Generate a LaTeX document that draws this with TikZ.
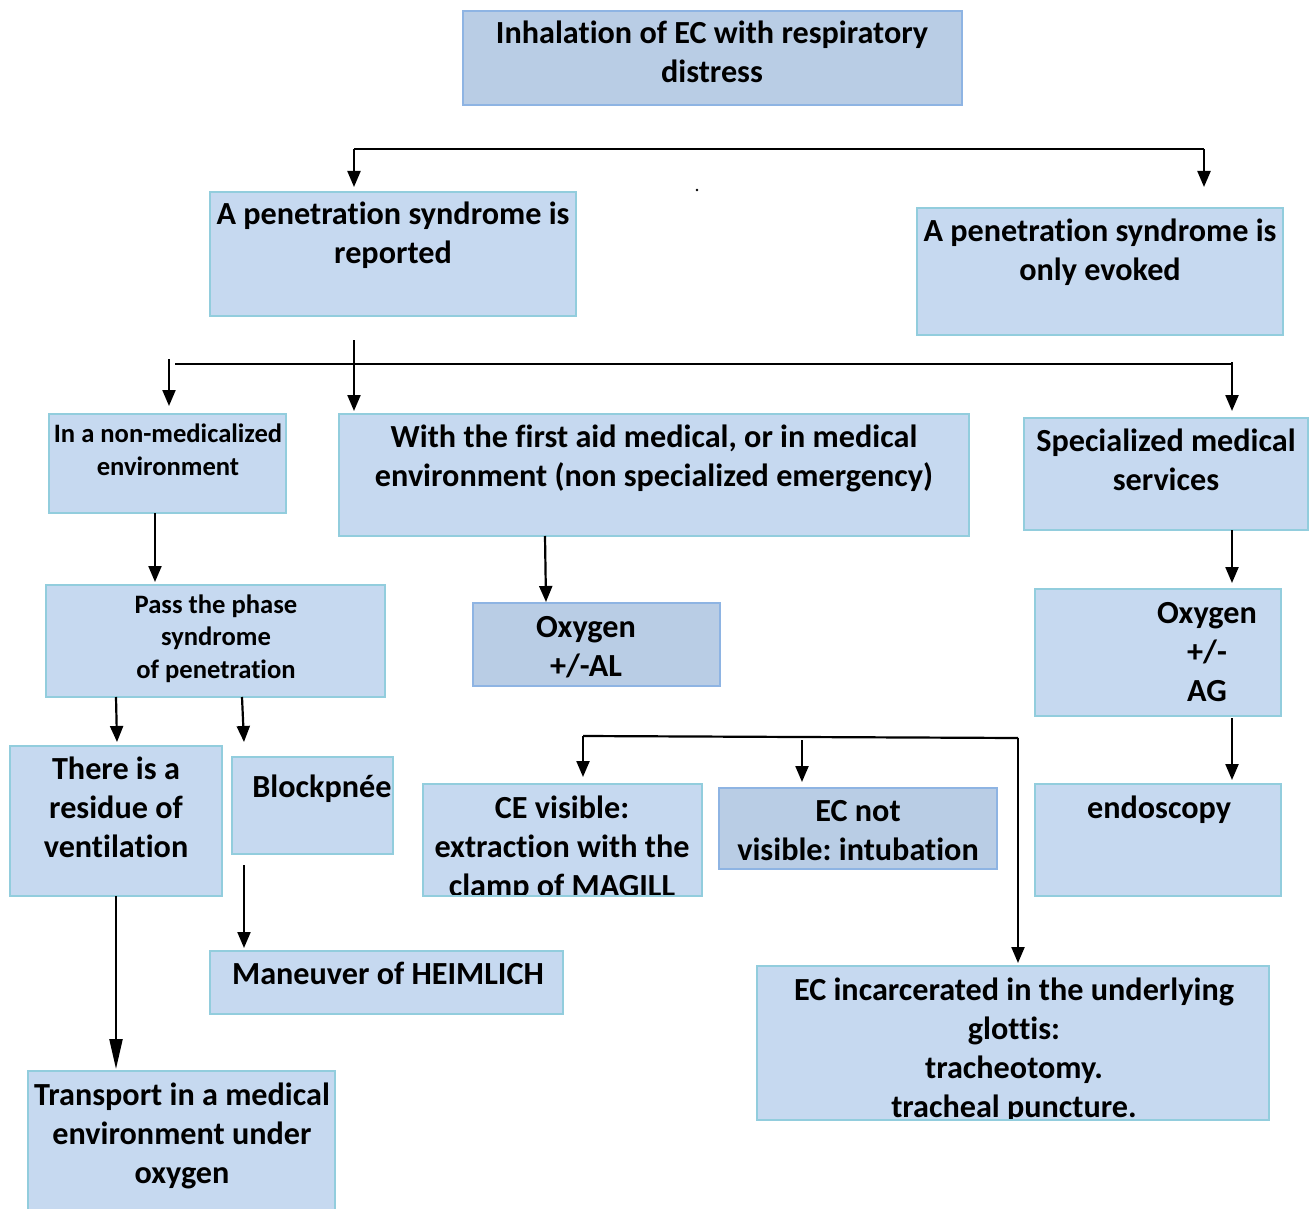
\documentclass[tikz,border=0pt]{standalone}
\usepackage{fontspec}
\setmainfont{Carlito}[Ligatures=NoCommon]
\usetikzlibrary{arrows.meta,fit}
\frenchspacing
\definecolor{lfill}{RGB}{198,217,240}
\definecolor{lbord}{RGB}{146,205,221}
\definecolor{dfill}{RGB}{185,205,229}
\definecolor{dbord}{RGB}{142,180,227}
\tikzset{
  box/.style={draw=lbord, fill=lfill, line width=2.5pt, inner sep=0pt, outer sep=0pt},
  dbox/.style={draw=dbord, fill=dfill, line width=2.5pt, inner sep=0pt, outer sep=0pt},
  txt/.style={anchor=north, inner sep=0pt, align=center, font=\bfseries\fontsize{32.2}{39}\selectfont},
  stxt/.style={txt, font=\bfseries\fontsize{26.6}{32.5}\selectfont},
  conn/.style={line width=2.2pt},
  arr/.style={line width=2.2pt, -{Triangle[length=16pt,width=13pt]}},
  longarr/.style={line width=2.2pt, -{Triangle[length=30pt,width=13pt]}}
}
\begin{document}
\begin{tikzpicture}[x=1pt,y=-1pt]
\useasboundingbox (0,0) rectangle (1309,1209);
% boxes
\node[dbox, fit={(463,11) (962,105)}] (top) {};
\node[box, fit={(210,192) (576,316)}] (pr) {};
\node[box, fit={(917,208) (1283,335)}] (ev) {};
\node[box, fit={(49,414) (286,513)}] (nm) {};
\node[box, fit={(339,414) (969,536)}] (fa) {};
\node[box, fit={(1024,418) (1308,530)}] (sp) {};
\node[box, fit={(46,585) (385,697)}] (pp) {};
\node[dbox, fit={(473,603) (720,686)}] (oa) {};
\node[box, fit={(1035,589) (1281,716)}] (og) {};
\node[box, fit={(10,746) (222,896)}] (rv) {};
\node[box, fit={(232,757) (393,854)}] (bp) {};
\node[box, fit={(423,784) (702,896)}] (ce) {};
\node[dbox, fit={(719,788) (997,869)}] (ecn) {};
\node[box, fit={(1035,784) (1281,896)}] (en) {};
\node[box, fit={(210,951) (563,1014)}] (mh) {};
\node[box, fit={(757,966) (1269,1120)}] (inc) {};
\node[box, fit={(28,1071) (335,1220)}] (tr) {};
% texts
\node[txt] (top-t) at (712,15.7) {\strut Inhalation of EC with respiratory\\distress};
\node[txt] (pr-t) at (393,196.7) {\strut A penetration syndrome is\\reported};
\node[txt] (ev-t) at (1100,213.7) {\strut A penetration syndrome is\\only evoked};
\node[stxt] (nm-t) at (168,419.6) {\strut In a non-medicalized\\environment};
\node[txt] (fa-t) at (654,419.7) {\strut With the first aid medical, or in medical\\environment (non specialized emergency)};
\node[txt] (sp-t) at (1166,423.7) {\strut Specialized medical\\services};
\node[stxt] (pp-t) at (216,590.2) {\strut Pass the phase\\syndrome\\of penetration};
\node[txt] (oa-t) at (586,609.7) {\strut Oxygen\\+/-AL};
\node[txt] (og-t) at (1207,595.7) {\strut Oxygen\\+/-\\AG};
\node[txt] (rv-t) at (116,751.7) {\strut There is a\\residue of\\ventilation};
\node[txt] (bp-t) at (322,769.7) {\strut Blockpnée};
\begin{scope}
\clip (ce.north west) rectangle ([xshift=-1.25pt,yshift=1.25pt]ce.south east);
\node[txt] (ce-t) at (562,790.7) {\strut CE visible:\\extraction with the\\clamp of MAGILL};
\end{scope}
\node[txt] (ecn-t) at (858,793.7) {\strut EC not\\visible: intubation};
\node[txt] (en-t) at (1159,790.7) {\strut endoscopy};
\node[txt] (mh-t) at (388,956.7) {\strut Maneuver of HEIMLICH};
\begin{scope}
\clip (inc.north west) rectangle ([yshift=1.25pt]inc.south east);
\node[txt] (inc-t) at (1014,972.7) {\strut EC incarcerated in the underlying\\glottis:\\tracheotomy.\\tracheal puncture.};
\end{scope}
\node[txt] (tr-t) at (182,1077.7) {\strut Transport in a medical\\environment under\\oxygen};
% small dot
\fill (697,190) circle (1.3pt);
% connectors
\coordinate (h1l) at (354,149);
\coordinate (h1r) at (1204,149);
\draw[conn] (h1l) -- (h1r);
\draw[arr] (h1l) -- ([yshift=5pt]pr.north -| h1l);
\draw[arr] (h1r) -- ([yshift=21pt]ev.north -| h1r);
\coordinate (h2l) at (175,364);
\coordinate (h2r) at (1232,364);
\coordinate (v2) at (354,340);
\draw[conn] (h2l) -- (h2r);
\draw[arr] (v2) -- ([yshift=3pt]fa.north -| v2);
\draw[arr] (169,359) -- ([yshift=8pt]nm.north -| 169,0);
\draw[arr] (1232,362) -- ([yshift=7pt]sp.north -| 1232,0);
\draw[arr] (nm.south -| 155,0) -- ([yshift=3pt]pp.north -| 155,0);
\draw[arr] (fa.south -| 545,0) -- ([yshift=1pt]oa.north -| 546,0);
\draw[arr] (sp.south -| 1232,0) -- ([yshift=6pt]og.north -| 1232,0);
\draw[arr] ([yshift=-2pt]og.south -| 1232,0) -- ([yshift=4pt]en.north -| 1232,0);
\draw[arr] (pp.south -| 116,0) -- ([yshift=4pt]rv.north -| 117,0);
\draw[arr] (pp.south -| 242,0) -- ([yshift=15pt]bp.north -| 244,0);
\draw[arr] ([yshift=-11pt]bp.south -| 244,0) -- ([yshift=3pt]mh.north -| 244,0);
\draw[longarr] (rv.south -| 116,0) -- ([yshift=2pt]tr.north -| 116,0);
\coordinate (h3l) at (583,736);
\coordinate (h3r) at (1018,738);
\draw[conn] (h3l) -- (h3r);
\draw[arr] (h3r) -- ([yshift=3pt]inc.north -| h3r);
\draw[arr] (h3l) -- ([yshift=7pt]ce.north -| h3l);
\draw[arr] (802,740) -- ([yshift=6pt]ecn.north -| 802,0);
\end{tikzpicture}
\end{document}
